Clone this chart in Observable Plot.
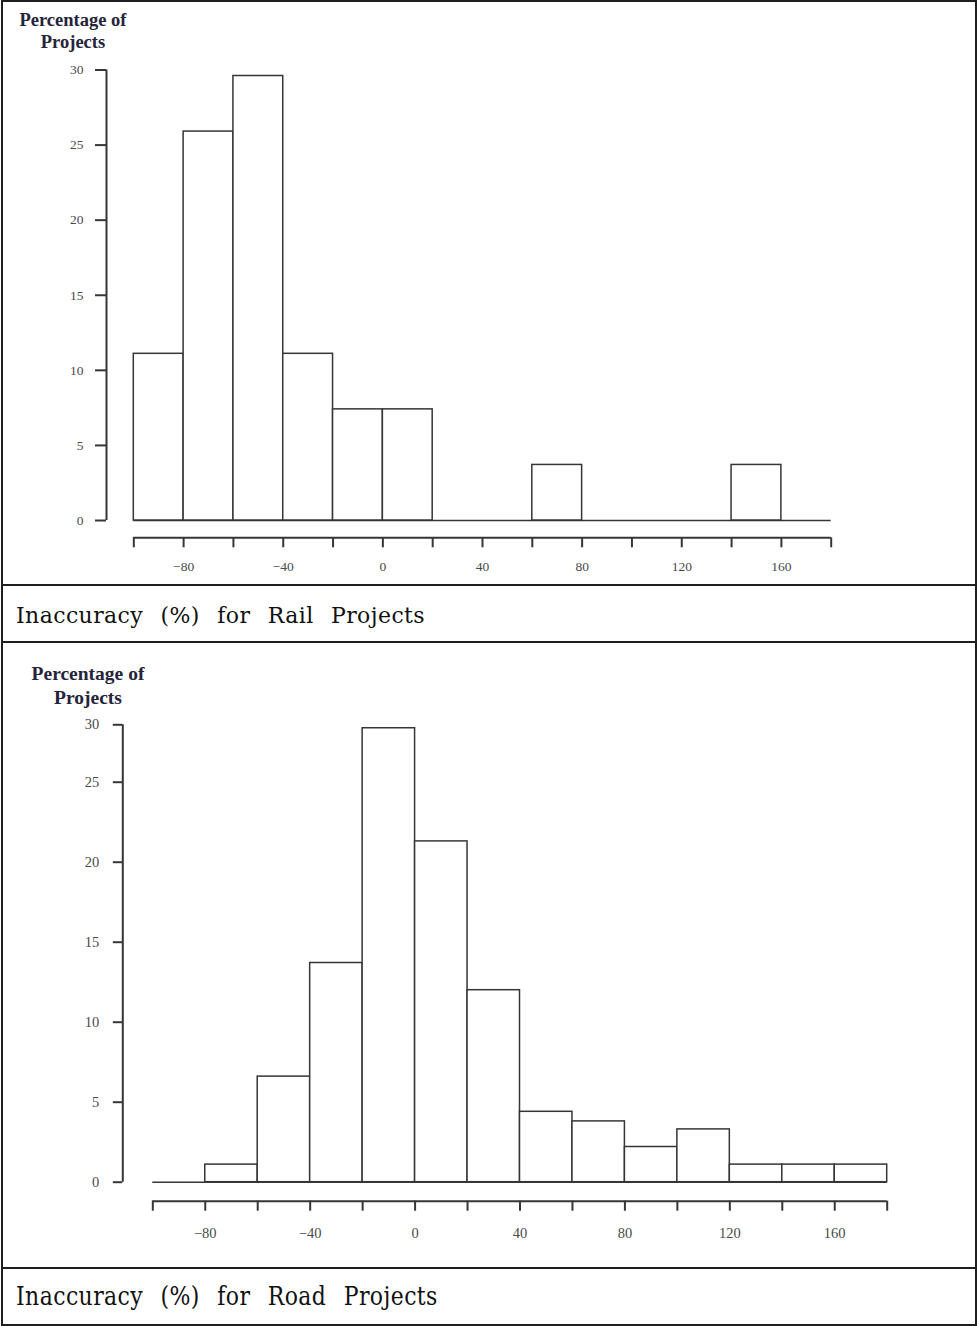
<!DOCTYPE html>
<html><head><meta charset="utf-8">
<script src="https://cdn.jsdelivr.net/npm/d3@7"></script>
<script src="https://cdn.jsdelivr.net/npm/@observablehq/plot@0.6"></script>
<style>
html,body{margin:0;padding:0;background:#fff;}
#page{position:relative;width:978px;height:1326px;overflow:hidden;background:#fff;}
#page svg{position:absolute;left:0;}
.line{position:absolute;background:#1e1e1e;z-index:5;}
.ytitle{position:absolute;left:0;font-family:"Liberation Serif",serif;font-weight:bold;color:#24243a;text-align:center;white-space:nowrap;}
.caption{position:absolute;left:16px;font-family:"DejaVu Serif",serif;color:#111;white-space:nowrap;word-spacing:10px;letter-spacing:0.4px;transform-origin:0 100%;}
</style></head>
<body><div id="page"></div>
<script>
// ---- data ----
const binEdges   = [-100, -80, -60, -40, -20, 0, 20, 40, 60, 80, 100, 120, 140, 160, 180];
const railPct    = [11.1, 25.9, 29.6, 11.1, 7.4, 7.4, 0, 0, 3.7, 0, 0, 0, 3.7, 0];
const roadPct    = [0, 1.1, 6.6, 13.7, 29.7, 21.3, 12.0, 4.4, 3.8, 2.2, 3.3, 1.1, 1.1, 1.1];
const yTicks     = [0, 5, 10, 15, 20, 25, 30];
const xLabelTicks = [-80, -40, 0, 40, 80, 120, 160];
const yTitleLines = ["Percentage of", "Projects"];
const captions   = ["Inaccuracy (%) for Rail Projects", "Inaccuracy (%) for Road Projects"];

const ink = "#363636";
const fmt = d => d < 0 ? "\u2212" + Math.abs(d) : String(d);

function hist(values, o) {
  const bins = values.map((v, i) => ({x1: binEdges[i], x2: binEdges[i + 1], pct: v}));
  return Plot.plot({
    width: o.width, height: o.height,
    marginLeft: o.mL, marginRight: o.mR, marginTop: o.mT, marginBottom: o.mB,
    x: {domain: [binEdges[0], binEdges[binEdges.length - 1]]},
    y: o.y,
    style: {fontFamily: "'Liberation Serif', serif", fontSize: o.fs + "px", color: ink, background: "transparent", overflow: "visible"},
    marks: [
      Plot.ruleY([0], {stroke: ink, strokeWidth: 1.5}),
      Plot.rectY(bins.filter(d => d.pct > 0), {x1: "x1", x2: "x2", y1: 0, y2: "pct", fill: "white", stroke: ink, strokeWidth: 1.5}),
      Plot.ruleX([binEdges[0]], {y1: yTicks[0], y2: yTicks[yTicks.length - 1], dx: o.sdx, stroke: ink, strokeWidth: 2}),
      Plot.ruleY([0], {x1: binEdges[0], x2: binEdges[binEdges.length - 1], dy: o.sdy, stroke: ink, strokeWidth: 2}),
      Plot.axisY(yTicks, {y: d => d, tickSize: o.tsy, tickPadding: o.tpy, dx: o.sdx, label: null,
        tickFormat: d => String(d), stroke: ink, strokeWidth: 2, fill: "#4a4a4a", fontVariant: "oldstyle-nums"}),
      Plot.axisX({ticks: binEdges, tickSize: o.tsx, tickPadding: o.tpx, dy: o.sdy, label: null,
        tickFormat: d => xLabelTicks.includes(d) ? fmt(d) : "", stroke: ink, strokeWidth: 2, fill: "#4a4a4a", fontVariant: "oldstyle-nums"})
    ]
  });
}

const page = document.getElementById("page");

// Rail chart
const c1 = hist(railPct, {width: 978, height: 584, mL: 133.3, mR: 147.3, mT: 69.5, mB: 64,
  y: {domain: [0, 30]}, sdx: -27.3, sdy: 17.3, fs: 13.5, tsy: 11, tpy: 12, tsx: 10, tpx: 14});
c1.style.top = "0px";
page.appendChild(c1);

// Road chart: its printed axis is compressed between 25 and 30
const squeeze = 0.7175;
const c2 = hist(roadPct, {width: 978, height: 624, mL: 152.3, mR: 91.3, mT: 81.3, mB: 85.3,
  y: {transform: v => v <= 25 ? v : 25 + (v - 25) * squeeze},
  sdx: -30, sdy: 19, fs: 14.5, tsy: 9.5, tpy: 14, tsx: 10, tpx: 17});
c2.style.top = "643px";
page.appendChild(c2);

// y titles
function addTitle(top, center, fs, lh) {
  const d = document.createElement("div");
  d.className = "ytitle";
  d.style.top = top + "px";
  d.style.width = (center * 2) + "px";
  d.style.fontSize = fs + "px";
  d.style.lineHeight = lh + "px";
  d.innerHTML = yTitleLines.join("<br>");
  page.appendChild(d);
}
addTitle(8.6, 73, 18.5, 22);
addTitle(662, 88, 19.5, 23.6);

// captions
function addCaption(text, baseline, fs, sy) {
  const d = document.createElement("div");
  d.className = "caption";
  d.style.fontSize = fs + "px";
  d.style.lineHeight = "30px";
  d.style.top = (baseline - 22.6) + "px";
  if (sy) d.style.transform = "scaleY(" + sy + ")";
  d.textContent = text;
  page.appendChild(d);
}
addCaption(captions[0], 623.3, 22, 1.05);
addCaption(captions[1], 1306.7, 22, 1.18);

// table lines
function line(x, y, w, h) {
  const d = document.createElement("div");
  d.className = "line";
  Object.assign(d.style, {left: x + "px", top: y + "px", width: w + "px", height: h + "px"});
  page.appendChild(d);
}
line(1, 0, 976, 2);
line(1, 584, 976, 2);
line(1, 641, 976, 2);
line(1, 1267, 976, 2);
line(1, 1324, 976, 2);
line(1, 0, 2, 1326);
line(975, 0, 2, 1326);
</script>
</body></html>
